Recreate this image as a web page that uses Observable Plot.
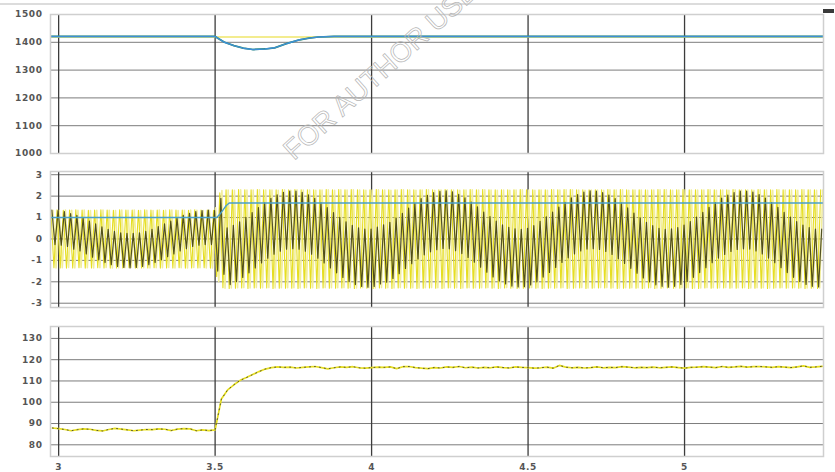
<!DOCTYPE html>
<html><head><meta charset="utf-8">
<script src="https://cdn.jsdelivr.net/npm/d3@7"></script>
<script src="https://cdn.jsdelivr.net/npm/@observablehq/plot@0.6"></script>
<style>
body{margin:0;background:#fff;}
#wrap{position:relative;width:835px;height:472px;overflow:hidden;background:#fff;}
.panel{position:absolute;left:0;}
#topline{position:absolute;left:0;top:3px;width:835px;height:2px;background:#dcdcdc;}
#icon{position:absolute;left:823px;top:9px;width:11px;height:4px;background:#3a3a3a;}
#wm{position:absolute;left:0;top:0;pointer-events:none;}
</style></head>
<body><div id="wrap"><div id="topline"></div><div id="icon"></div></div>
<script>
// ---------- axes ----------
const xDomain = [2.974, 5.444];
const xTicks = [3, 3.5, 4, 4.5, 5];
const speedTicks = [1000, 1100, 1200, 1300, 1400, 1500];
const currentTicks = [-3, -2, -1, 0, 1, 2, 3];
const torqueTicks = [80, 90, 100, 110, 120, 130];
const watermark = "FOR AUTHOR USE ONLY";

// ---------- top panel: speed ----------
const speedT   = [2.974, 3.500, 3.510, 3.530, 3.560, 3.590, 3.620, 3.660, 3.690, 3.730, 3.770, 3.800, 3.830, 3.880, 5.444];
const speedEst = [1421, 1421, 1414, 1400, 1388, 1379, 1374, 1376, 1380, 1396, 1409, 1415, 1419, 1421, 1421];
const speedRefT = [2.974, 5.444];
const speedRef  = [1419, 1419];

// ---------- middle panel: phase currents (peaks every half period, 10 ms) ----------
const tStartA = 2.975, tStartB = 2.9817, tStartC = 2.9783, halfPeriod = 0.01;
const phaseA = [
 1.35,-1.34,1.36,-1.35,1.34,-1.36,1.35,-1.35,1.36,-1.34,
 1.35,-1.36,1.34,-1.35,1.35,-1.34,1.36,-1.35,1.35,-1.36,
 1.34,-1.35,1.36,-1.35,1.35,-1.34,1.35,-1.36,1.34,-1.35,
 1.36,-1.35,1.35,-1.34,1.35,-1.36,1.34,-1.35,1.36,-1.35,
 1.35,-1.34,1.35,-1.36,1.34,-1.35,1.36,-1.35,1.35,-1.34,
 1.35,-1.36,1.34,
 -1.75,2.15,-2.28,
 2.30,-2.31,2.29,-2.30,2.31,-2.29,2.30,-2.31,2.30,-2.29,
 2.31,-2.30,2.30,-2.29,2.30,-2.31,2.29,-2.30,2.31,-2.30,
 2.29,-2.30,2.31,-2.31,2.30,-2.29,2.30,-2.30,2.29,-2.31,
 2.30,-2.29,2.31,-2.30,2.29,-2.30,2.31,-2.29,2.30,-2.30,
 2.31,-2.31,2.30,-2.29,2.29,-2.30,2.30,-2.31,2.31,-2.29,
 2.30,-2.30,2.29,-2.31,2.30,-2.29,2.31,-2.30,2.30,-2.30,
 2.29,-2.31,2.30,-2.30,2.31,-2.29,2.29,-2.30,2.30,-2.31,
 2.31,-2.29,2.30,-2.30,2.29,-2.31,2.30,-2.29,2.31,-2.30,
 2.30,-2.30,2.31,-2.29,2.30,-2.30,2.29,-2.31,2.30,-2.29,
 2.29,-2.30,2.30,-2.31,2.31,-2.30,2.30,-2.29,2.29,-2.30,
 2.30,-2.31,2.29,-2.30,2.31,-2.30,2.30,-2.29,2.31,-2.31,
 2.31,-2.30,2.30,-2.29,2.29,-2.31,2.30,-2.30,2.30,-2.29,
 2.29,-2.29,2.31,-2.30,2.30,-2.31,2.31,-2.30,2.29,-2.30,
 2.30,-2.30,2.30,-2.31,2.29,-2.29,2.30,-2.31,2.31,-2.30,
 2.31,-2.29,2.29,-2.30,2.30,-2.30,2.31,-2.29,2.30,-2.31,
 2.30,-2.31,2.30,-2.29,2.31,-2.30,2.29,-2.30,2.30,-2.29,
 2.29,-2.30,2.31,-2.30,2.30,-2.29,2.30,-2.31,2.29,-2.30,
 2.31,-2.30,2.30,-2.31,2.29,-2.30,2.31,-2.29,2.30,-2.30,
 2.30,-2.29,2.29,-2.30,2.31,-2.31,2.30,-2.30,2.29,-2.31,
 2.30
];
const phaseB = [
 1.34,-1.35,1.33,-1.34,1.35,-1.33,1.34,-1.35,1.34,-1.33,
 1.35,-1.34,1.33,-1.35,1.34,-1.34,1.35,-1.33,1.34,-1.35,
 1.33,-1.34,1.35,-1.34,1.34,-1.33,1.35,-1.35,1.33,-1.34,
 1.34,-1.35,1.33,-1.34,1.35,-1.34,1.34,-1.33,1.35,-1.35,
 1.33,-1.34,1.34,-1.35,1.35,-1.33,1.34,-1.34,1.33,-1.35,
 1.34,-1.35,
 1.45,-2.00,2.26,-2.30,
 2.28,-2.29,2.27,-2.28,2.29,-2.27,2.28,-2.29,2.28,-2.27,
 2.29,-2.28,2.28,-2.27,2.28,-2.29,2.27,-2.28,2.29,-2.28,
 2.27,-2.28,2.29,-2.29,2.28,-2.27,2.28,-2.28,2.27,-2.29,
 2.28,-2.27,2.29,-2.28,2.27,-2.28,2.29,-2.27,2.28,-2.28,
 2.29,-2.29,2.28,-2.27,2.27,-2.28,2.28,-2.29,2.29,-2.27,
 2.28,-2.28,2.27,-2.29,2.28,-2.27,2.29,-2.28,2.28,-2.28,
 2.27,-2.29,2.28,-2.28,2.29,-2.27,2.27,-2.28,2.28,-2.29,
 2.29,-2.27,2.28,-2.28,2.27,-2.29,2.28,-2.27,2.29,-2.28,
 2.28,-2.28,2.29,-2.27,2.28,-2.28,2.27,-2.29,2.28,-2.27,
 2.27,-2.28,2.28,-2.29,2.29,-2.28,2.28,-2.27,2.27,-2.28,
 2.28,-2.29,2.27,-2.28,2.29,-2.28,2.28,-2.27,2.29,-2.29,
 2.29,-2.28,2.28,-2.27,2.27,-2.29,2.28,-2.28,2.28,-2.27,
 2.27,-2.27,2.29,-2.28,2.28,-2.29,2.29,-2.28,2.27,-2.28,
 2.28,-2.28,2.28,-2.29,2.27,-2.27,2.28,-2.29,2.29,-2.28,
 2.29,-2.27,2.27,-2.28,2.28,-2.28,2.29,-2.27,2.28,-2.29,
 2.28,-2.29,2.28,-2.27,2.29,-2.28,2.27,-2.28,2.28,-2.27,
 2.27,-2.28,2.29,-2.28,2.28,-2.27,2.28,-2.29,2.27,-2.28,
 2.29,-2.28,2.28,-2.29,2.27,-2.28,2.29,-2.27,2.28,-2.28,
 2.28,-2.27,2.27,-2.28,2.29,-2.29,2.28,-2.28,2.27,-2.29,
 2.28
];
const phaseC = [
 1.35,-0.26,1.33,-0.29,1.28,-0.35,1.18,-0.48,1.10,-0.56,
 0.97,-0.70,0.83,-0.85,0.70,-0.97,0.56,-1.10,0.45,-1.20,
 0.35,-1.28,0.29,-1.33,0.26,-1.35,0.26,-1.33,0.29,-1.28,
 0.35,-1.20,0.45,-1.10,0.58,-0.97,0.70,-0.83,0.83,-0.70,
 0.97,-0.56,1.10,-0.45,1.20,-0.35,1.28,-0.29,1.33,-0.26,
 1.35,-0.26,1.33,
 -1.50,1.90,-1.65,
 0.52,-2.13,0.64,-1.99,0.80,-1.80,1.01,-1.58,1.23,-1.35,
 1.47,-1.12,1.69,-0.90,1.90,-0.71,2.06,-0.57,2.18,-0.48,
 2.24,-0.45,2.24,-0.48,2.18,-0.57,2.06,-0.71,1.90,-0.90,
 1.69,-1.12,1.47,-1.35,1.23,-1.58,1.01,-1.80,0.80,-1.99,
 0.64,-2.13,0.52,-2.22,0.46,-2.25,0.46,-2.22,
 0.55,-2.10,0.66,-2.02,0.78,-1.84,0.98,-1.62,1.20,-1.38,
 1.44,-1.15,1.66,-0.93,1.88,-0.74,2.04,-0.60,2.16,-0.50,
 2.22,-0.44,2.25,-0.46,2.20,-0.55,2.08,-0.68,1.92,-0.86,
 1.72,-1.08,1.50,-1.32,1.26,-1.55,1.04,-1.77,0.83,-1.96,
 0.66,-2.10,0.54,-2.20,0.47,-2.24,0.45,-2.23,
 0.50,-2.15,0.62,-2.00,0.82,-1.78,1.03,-1.56,1.25,-1.33,
 1.49,-1.10,1.71,-0.88,1.92,-0.70,2.07,-0.56,2.19,-0.47,
 2.25,-0.45,2.23,-0.49,2.17,-0.58,2.05,-0.72,1.88,-0.92,
 1.67,-1.14,1.45,-1.37,1.21,-1.60,0.99,-1.82,0.78,-2.00,
 0.62,-2.14,0.50,-2.21,0.45,-2.25,0.47,-2.21,
 0.53,-2.12,0.65,-1.98,0.81,-1.79,1.02,-1.57,1.24,-1.34,
 1.48,-1.11,1.70,-0.89,1.91,-0.72,2.05,-0.58,2.17,-0.49,
 2.23,-0.46,2.24,-0.47,2.19,-0.56,2.07,-0.70,1.91,-0.89,
 1.70,-1.11,1.48,-1.34,1.24,-1.57,1.02,-1.79,0.81,-1.98,
 0.65,-2.12,0.53,-2.21,0.46,-2.24,0.46
];
const ampT = [2.974, 3.505, 3.515, 3.525, 3.535, 3.545, 5.444];
const ampV = [1.00, 1.00, 1.15, 1.35, 1.55, 1.68, 1.68];

// ---------- bottom panel: torque (20 ms samples from 2.98 s) ----------
const torqueStart = 2.98, torqueStep = 0.02;
const torque = [
 87.9,87.6,87.2,86.6,87.1,87.5,87.3,86.8,86.5,87.2,
 87.7,87.4,87.0,86.6,86.9,87.2,87.1,87.5,87.3,86.7,
 87.4,87.6,87.5,86.6,87.0,86.7,87.0,
 101.5,105.8,108.2,110.3,111.6,113.0,114.4,115.6,116.3,116.6,
 116.4,116.5,116.1,116.4,116.6,116.8,116.3,115.7,116.2,116.6,
 116.4,116.7,116.2,116.0,116.3,116.5,116.4,116.6,115.8,116.7,
 116.8,116.3,116.0,115.8,116.3,116.1,116.6,116.4,116.8,116.2,
 116.5,116.1,116.4,116.2,116.6,116.3,116.1,116.6,116.4,116.3,
 116.0,116.2,116.5,116.0,117.3,116.5,116.2,116.4,116.1,116.3,
 116.6,116.2,116.4,116.3,116.7,116.5,116.2,116.4,116.3,116.5,
 116.2,116.4,116.6,116.3,116.0,116.4,116.5,116.7,116.5,116.3,
 116.8,116.4,116.6,116.9,116.5,116.7,116.8,116.6,116.4,116.7,
 116.5,116.3,116.6,117.1,116.4,116.6,116.9
];

// ---------- build tables ----------
const zip = (ts, vs) => ts.map((t, i) => ({t, v: vs[i]}));
const seq = (t0, step, vs) => vs.map((v, i) => ({t: t0 + i * step, v}));
const speedEstData = zip(speedT, speedEst);
const speedRefData = zip(speedRefT, speedRef);
const aData = seq(tStartA, halfPeriod, phaseA);
const bData = seq(tStartB, halfPeriod, phaseB);
const cData = seq(tStartC, halfPeriod, phaseC);
const ampData = zip(ampT, ampV);
const torqueData = seq(torqueStart, torqueStep, torque);

const fmt = d => String(d);
function panel({top, height, mt, mb, yDomain, yTicks, marks, showX}) {
  const svg = Plot.plot({
    width: 835, height,
    marginLeft: 50, marginRight: 12, marginTop: mt, marginBottom: mb,
    style: {fontFamily: "DejaVu Sans", fontSize: "9px", fontWeight: "bold", color: "#555", background: "transparent", letterSpacing: "0.6px", overflow: "visible"},
    x: {domain: xDomain, ticks: xTicks, tickFormat: fmt, tickSize: 0, tickPadding: 7, label: null, axis: showX ? "bottom" : null},
    y: {domain: yDomain, ticks: yTicks, tickFormat: fmt, tickSize: 0, tickPadding: 8, label: null},
    marks: [
      Plot.ruleY(yTicks, {stroke: "#7c7c7c", strokeWidth: 1}),
      Plot.ruleX(xTicks, {stroke: "#3c3c3c", strokeWidth: 1.3}),
      ...marks,
      Plot.frame({stroke: "#cfcfcf", strokeWidth: 1.5})
    ]
  });
  svg.classList.add("panel");
  svg.style.top = top + "px";
  document.getElementById("wrap").appendChild(svg);
}

panel({top: 0, height: 160, mt: 14, mb: 7, yDomain: [1000, 1500], yTicks: speedTicks, showX: false, marks: [
  Plot.line(speedRefData, {x: "t", y: "v", stroke: "#efe66a", strokeWidth: 1.6, clip: true}),
  Plot.line(speedEstData, {x: "t", y: "v", stroke: "#2e8a5c", strokeWidth: 1.7, clip: true}),
  Plot.line(speedEstData, {x: "t", y: "v", stroke: "#3d8fd6", strokeWidth: 1.5, clip: true})
]});

panel({top: 160, height: 150, mt: 11, mb: 3, yDomain: [-3.2, 3.15], yTicks: currentTicks, showX: false, marks: [
  Plot.line(bData, {x: "t", y: "v", stroke: "#f2ee9c", strokeWidth: 1.6, clip: true}),
  Plot.line(aData, {x: "t", y: "v", stroke: "#e6de22", strokeWidth: 1.1, clip: true}),
  Plot.line(cData, {x: "t", y: "v", stroke: "#36350f", strokeWidth: 1.2, strokeOpacity: 0.85, clip: true}),
  Plot.line(ampData, {x: "t", y: "v", stroke: "#48a0cc", strokeWidth: 1.4, clip: true})
]});

panel({top: 310, height: 162, mt: 16, mb: 16, yDomain: [74.5, 135.6], yTicks: torqueTicks, showX: true, marks: [
  Plot.line(torqueData, {x: "t", y: "v", stroke: "#e8e021", strokeWidth: 1.7, clip: true}),
  Plot.line(torqueData, {x: "t", y: "v", stroke: "#333", strokeWidth: 0.8, strokeDasharray: "1,4", clip: true})
]});

// watermark (cut by the top edge, as in the reference)
const ns = "http://www.w3.org/2000/svg";
const wm = document.createElementNS(ns, "svg");
wm.setAttribute("id", "wm"); wm.setAttribute("width", 835); wm.setAttribute("height", 472);
const tx = document.createElementNS(ns, "text");
tx.setAttribute("transform", "translate(294,161) rotate(-42)");
tx.setAttribute("font-family", "Liberation Sans");
tx.setAttribute("font-size", "28");
tx.setAttribute("fill", "none");
tx.setAttribute("stroke", "#b4b4b4");
tx.setAttribute("stroke-width", "0.7");
tx.textContent = watermark;
wm.appendChild(tx);
document.getElementById("wrap").appendChild(wm);
</script>
</body></html>
